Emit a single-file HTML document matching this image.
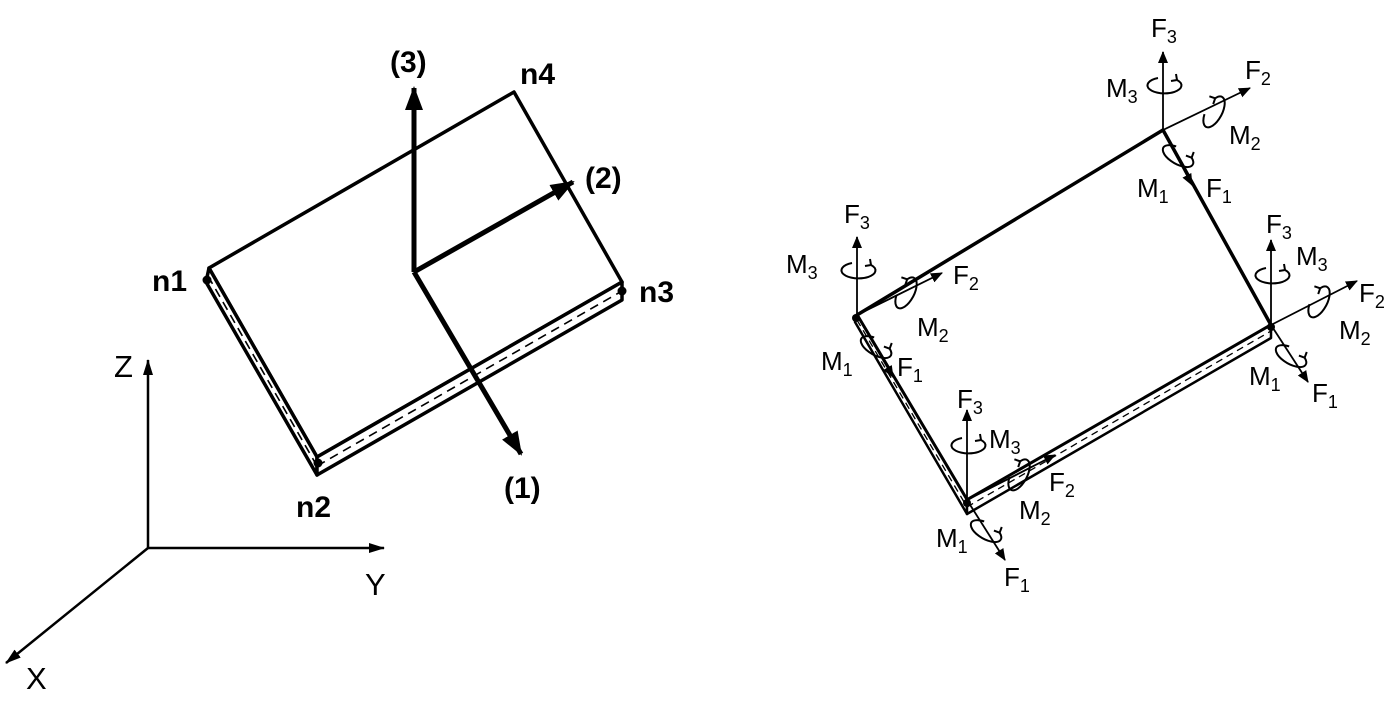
<!DOCTYPE html>
<html><head><meta charset="utf-8"><style>html,body{margin:0;padding:0;background:#fff}svg{display:block}</style></head>
<body>
<svg width="1400" height="720" viewBox="0 0 1400 720" xmlns="http://www.w3.org/2000/svg" font-family="Liberation Sans, sans-serif">
<defs>
<marker id="ab" markerWidth="12" markerHeight="12" refX="11" refY="6" orient="auto" markerUnits="userSpaceOnUse" viewBox="0 0 12 12"><path d="M0,1 L12,6 L0,11 z" fill="#000"/></marker>
<marker id="abig" markerWidth="24" markerHeight="24" refX="22" refY="12" orient="auto" markerUnits="userSpaceOnUse" viewBox="0 0 24 24"><path d="M0,3 L24,12 L0,21 z" fill="#000"/></marker>
<marker id="asm" markerWidth="16" markerHeight="14" refX="15" refY="7" orient="auto" markerUnits="userSpaceOnUse" viewBox="0 0 16 14"><path d="M0,2 L16,7 L0,12 z" fill="#000"/></marker>
<g id="curl"><path d="M -5 -7 A 17 8 0 1 0 14 -5" fill="none" stroke="#000" stroke-width="2"/><path d="M14 -5 l-1 -6 M14 -5 l-6 1" stroke="#000" stroke-width="2"/></g>
</defs>

<g stroke="#000" stroke-width="2.5" fill="none">
<line x1="148" y1="548" x2="148" y2="360" marker-end="url(#asm)"/>
<line x1="148" y1="548" x2="384" y2="548" marker-end="url(#asm)"/>
<line x1="148" y1="548" x2="6" y2="663" marker-end="url(#asm)"/>
</g>
<g font-size="31" fill="#000">
<text x="114" y="377">Z</text>
<text x="365" y="595">Y</text>
<text x="26" y="689">X</text>
</g>

<g stroke="#000" stroke-width="3.5" fill="none" stroke-linejoin="round">
<polygon points="209,268 514,92 622,282 317,457" fill="#fff"/>
<polygon points="209,268 317,457 317,475 206,282" fill="#fff"/>
<polygon points="317,457 622,282 622,300 317,475" fill="#fff"/>
</g>
<g stroke="#000" stroke-width="1.6" stroke-dasharray="9,6" fill="none">
<line x1="208" y1="276" x2="317" y2="466"/>
<line x1="317" y1="466" x2="622" y2="291"/>
</g>
<circle cx="207" cy="280" r="4.5" fill="#000"/>
<circle cx="318" cy="463" r="4.5" fill="#000"/>
<circle cx="622" cy="291" r="4.5" fill="#000"/>
<g stroke="#000" stroke-width="5" fill="none">
<line x1="414" y1="272" x2="414" y2="88" marker-end="url(#abig)"/>
<line x1="414" y1="272" x2="573" y2="182" marker-end="url(#abig)"/>
<line x1="414" y1="272" x2="521" y2="454" marker-end="url(#abig)"/>
</g>
<g font-size="30" font-weight="bold" fill="#000">
<text x="390" y="72">(3)</text>
<text x="520" y="84">n4</text>
<text x="585" y="188">(2)</text>
<text x="152" y="291">n1</text>
<text x="639" y="302">n3</text>
<text x="296" y="517">n2</text>
<text x="504" y="498">(1)</text>
</g>

<g stroke="#000" stroke-width="3.5" fill="none" stroke-linejoin="round">
<polygon points="857,315 1163,130 1271,325 967,500" fill="#fff"/>
<polygon points="857,315 967,500 967,514 855,322" fill="#fff" stroke-width="2.5"/>
<polygon points="967,500 1271,325 1271,338 967,514" fill="#fff" stroke-width="2.5"/>
</g>
<g stroke="#000" stroke-width="1.3" stroke-dasharray="7,5" fill="none">
<line x1="857" y1="320" x2="967" y2="507"/>
<line x1="967" y1="507" x2="1271" y2="331"/>
</g>
<circle cx="856" cy="318" r="4" fill="#000"/>
<circle cx="967" cy="503" r="4" fill="#000"/>
<circle cx="1271" cy="327" r="4" fill="#000"/>

<g stroke="#000" stroke-width="1.8" fill="none">
<line x1="1163" y1="130" x2="1163" y2="52" marker-end="url(#ab)"/>
<line x1="1163" y1="130" x2="1250" y2="88" marker-end="url(#ab)"/>
<line x1="1163" y1="130" x2="1192" y2="185" marker-end="url(#ab)"/>
<line x1="857" y1="315" x2="857" y2="237" marker-end="url(#ab)"/>
<line x1="857" y1="315" x2="942" y2="273" marker-end="url(#ab)"/>
<line x1="857" y1="315" x2="893" y2="377" marker-end="url(#ab)"/>
<line x1="1271" y1="325" x2="1271" y2="240" marker-end="url(#ab)"/>
<line x1="1271" y1="325" x2="1357" y2="281" marker-end="url(#ab)"/>
<line x1="1271" y1="325" x2="1308" y2="382" marker-end="url(#ab)"/>
<line x1="967" y1="500" x2="967" y2="410" marker-end="url(#ab)"/>
<line x1="967" y1="500" x2="1055" y2="455" marker-end="url(#ab)"/>
<line x1="967" y1="500" x2="1005" y2="560" marker-end="url(#ab)"/>
</g>
<use href="#curl" transform="translate(1163,85)"/>
<use href="#curl" transform="translate(1213,113) rotate(-62)"/>
<use href="#curl" transform="translate(1177,155) rotate(30)"/>
<use href="#curl" transform="translate(857,270)"/>
<use href="#curl" transform="translate(905,294) rotate(-62)"/>
<use href="#curl" transform="translate(875,346) rotate(30)"/>
<use href="#curl" transform="translate(1271,275)"/>
<use href="#curl" transform="translate(1318,303) rotate(-62)"/>
<use href="#curl" transform="translate(1290,355) rotate(30)"/>
<use href="#curl" transform="translate(967,445)"/>
<use href="#curl" transform="translate(1018,476) rotate(-62)"/>
<use href="#curl" transform="translate(985,530) rotate(30)"/>

<g font-size="26" fill="#000">
<text x="1151" y="37">F<tspan font-size="18" dy="6">3</tspan></text>
<text x="1106" y="97">M<tspan font-size="18" dy="6">3</tspan></text>
<text x="1245" y="79">F<tspan font-size="18" dy="6">2</tspan></text>
<text x="1229" y="144">M<tspan font-size="18" dy="6">2</tspan></text>
<text x="1137" y="197">M<tspan font-size="18" dy="6">1</tspan></text>
<text x="1206" y="197">F<tspan font-size="18" dy="6">1</tspan></text>

<text x="844" y="223">F<tspan font-size="18" dy="6">3</tspan></text>
<text x="786" y="273">M<tspan font-size="18" dy="6">3</tspan></text>
<text x="953" y="284">F<tspan font-size="18" dy="6">2</tspan></text>
<text x="917" y="336">M<tspan font-size="18" dy="6">2</tspan></text>
<text x="821" y="370">M<tspan font-size="18" dy="6">1</tspan></text>
<text x="897" y="376">F<tspan font-size="18" dy="6">1</tspan></text>

<text x="1266" y="233">F<tspan font-size="18" dy="6">3</tspan></text>
<text x="1296" y="265">M<tspan font-size="18" dy="6">3</tspan></text>
<text x="1359" y="302">F<tspan font-size="18" dy="6">2</tspan></text>
<text x="1339" y="339">M<tspan font-size="18" dy="6">2</tspan></text>
<text x="1249" y="385">M<tspan font-size="18" dy="6">1</tspan></text>
<text x="1312" y="402">F<tspan font-size="18" dy="6">1</tspan></text>

<text x="957" y="408">F<tspan font-size="18" dy="6">3</tspan></text>
<text x="989" y="448">M<tspan font-size="18" dy="6">3</tspan></text>
<text x="1049" y="491">F<tspan font-size="18" dy="6">2</tspan></text>
<text x="1019" y="519">M<tspan font-size="18" dy="6">2</tspan></text>
<text x="936" y="547">M<tspan font-size="18" dy="6">1</tspan></text>
<text x="1004" y="586">F<tspan font-size="18" dy="6">1</tspan></text>
</g>
</svg>
</body></html>
